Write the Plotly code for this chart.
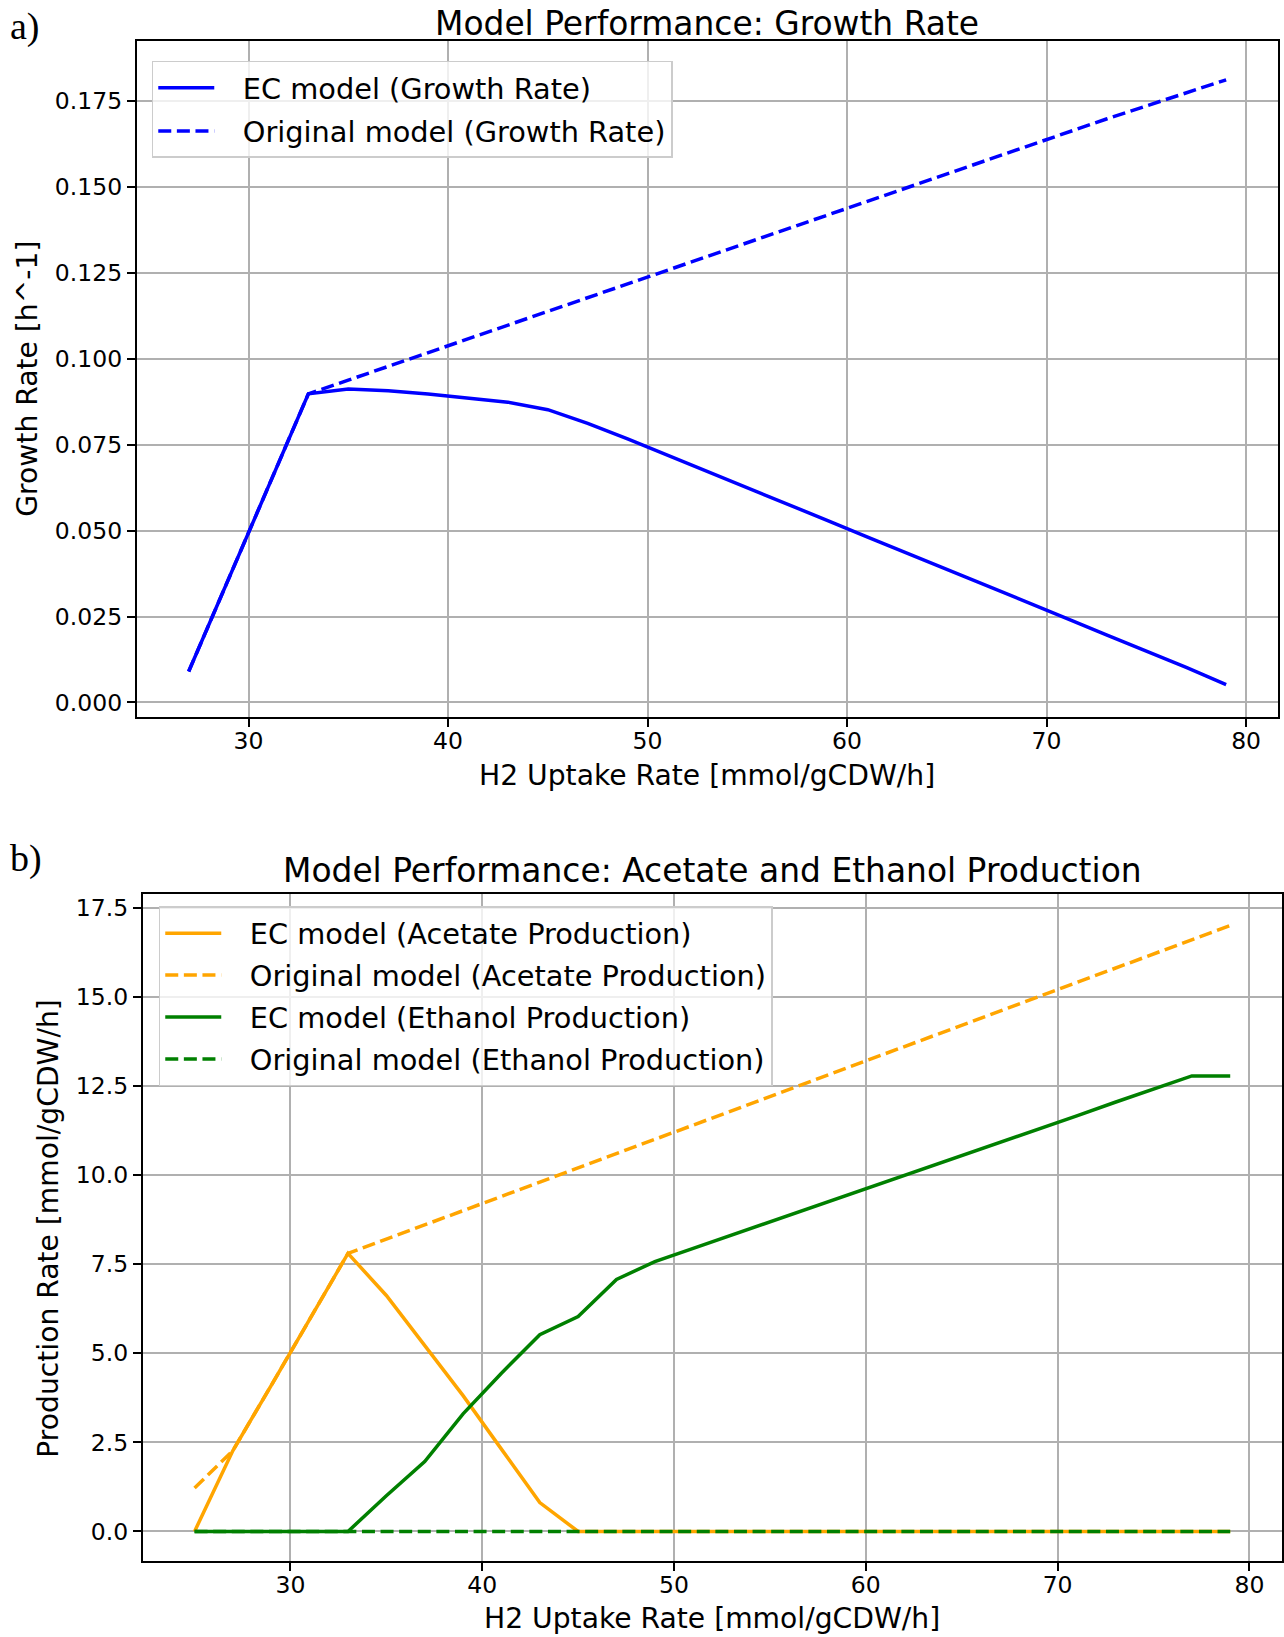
import plotly.graph_objects as go

# ---------------- data ----------------
h2_growth = [27, 29, 31, 33, 35, 37, 39, 41, 43, 45, 47, 49, 51, 53, 55, 57, 59,
             61, 63, 65, 67, 69, 71, 73, 75, 77, 79]
growth_ec = [0.0090, 0.0359, 0.0629, 0.0898, 0.0912, 0.0907, 0.0898, 0.0886, 0.0874,
             0.0852, 0.0812, 0.0767, 0.0720, 0.0672, 0.0625, 0.0577, 0.0530, 0.0482,
             0.0435, 0.0387, 0.0340, 0.0292, 0.0245, 0.0197, 0.0150, 0.0102, 0.0052]
growth_orig = [0.0090, 0.0359, 0.0629, 0.0898, 0.0938, 0.0978, 0.1018, 0.1058, 0.1098,
               0.1139, 0.1179, 0.1219, 0.1259, 0.1299, 0.1339, 0.1379, 0.1420, 0.1460,
               0.1500, 0.1540, 0.1580, 0.1620, 0.1660, 0.1698, 0.1736, 0.1774, 0.1812]

h2_prod = [25, 27, 29, 31, 33, 35, 37, 39, 41, 43, 45, 47, 49, 51, 53, 55, 57, 59,
           61, 63, 65, 67, 69, 71, 73, 75, 77, 79]
acetate_ec = [0.0, 2.27, 4.10, 5.95, 7.80, 6.62, 5.22, 3.81, 2.31, 0.81, 0.0, 0.0, 0.0,
              0.0, 0.0, 0.0, 0.0, 0.0, 0.0, 0.0, 0.0, 0.0, 0.0, 0.0, 0.0, 0.0, 0.0, 0.0]
acetate_orig = [1.22, 2.27, 4.10, 5.95, 7.80, 8.20, 8.60, 9.00, 9.40, 9.80, 10.20, 10.60,
                11.00, 11.40, 11.80, 12.20, 12.60, 13.00, 13.40, 13.80, 14.20, 14.60,
                15.00, 15.40, 15.80, 16.20, 16.60, 17.00]
ethanol_ec = [0.0, 0.0, 0.0, 0.0, 0.0, 1.00, 1.96, 3.30, 4.44, 5.52, 6.03, 7.07, 7.57,
              7.94, 8.31, 8.69, 9.06, 9.43, 9.80, 10.18, 10.55, 10.92, 11.29, 11.66,
              12.04, 12.41, 12.78, 12.78]
ethanol_orig = [0.0, 0.0, 0.0, 0.0, 0.0, 0.0, 0.0, 0.0, 0.0, 0.0, 0.0, 0.0, 0.0, 0.0,
                0.0, 0.0, 0.0, 0.0, 0.0, 0.0, 0.0, 0.0, 0.0, 0.0, 0.0, 0.0, 0.0, 0.0]

title_a = "Model Performance: Growth Rate"
title_b = "Model Performance: Acetate and Ethanol Production"
xlabel = "H2 Uptake Rate [mmol/gCDW/h]"
ylabel_a = "Growth Rate [h^-1]"
ylabel_b = "Production Rate [mmol/gCDW/h]"

# ---------------- style ----------------
W, H = 1284, 1637
FONT = "DejaVu Sans"
TICK = 23.5
LABEL = 28.2
LEG = 28.8
TITLE = 32.9
LW = 3.5
DASH = "13px,5.6px"
BLUE, ORANGE, GREEN = "#0000ff", "#ffa500", "#008000"
GRID = "#b0b0b0"
PAD = "\u2002\u00a0"  # gap between legend handle and text

def px_x(p):
    return p / W

def px_y(p):
    return 1 - p / H

# axes boxes in pixels
A_L, A_R, A_T, A_B = 137, 1280, 40, 716
B_L, B_R, B_T, B_B = 143, 1284, 894, 1561

fig = go.Figure()

def add(x, y, name, color, dashed, xa, ya, leg, grp):
    line = dict(color=color, width=LW)
    if dashed:
        line["dash"] = DASH
    fig.add_trace(go.Scatter(x=x, y=y, mode="lines", name=PAD + name, line=line,
                             xaxis=xa, yaxis=ya, legend=leg, legendgroup=grp))

add(h2_growth, growth_ec, "EC model (Growth Rate)", BLUE, False, "x", "y", "legend", "g1")
add(h2_growth, growth_orig, "Original model (Growth Rate)", BLUE, True, "x", "y", "legend", "g2")
add(h2_prod, acetate_ec, "EC model (Acetate Production)", ORANGE, False, "x2", "y2", "legend2", "p1")
add(h2_prod, acetate_orig, "Original model (Acetate Production)", ORANGE, True, "x2", "y2", "legend2", "p2")
add(h2_prod, ethanol_ec, "EC model (Ethanol Production)", GREEN, False, "x2", "y2", "legend2", "p3")
add(h2_prod, ethanol_orig, "Original model (Ethanol Production)", GREEN, True, "x2", "y2", "legend2", "p4")

axis_common = dict(showgrid=True, gridcolor=GRID, gridwidth=1.9, zeroline=False,
                   showline=True, linecolor="black", linewidth=1.9, mirror=True,
                   ticks="outside", ticklen=8, tickwidth=1.9, tickcolor="black",
                   tickfont=dict(family=FONT, size=TICK, color="black"))

legend_common = dict(xanchor="left", yanchor="top",
                     bgcolor="rgba(255,255,255,0.8)", bordercolor="#cccccc", borderwidth=1.5,
                     font=dict(family=FONT, size=LEG, color="black"), itemwidth=56,
                     traceorder="grouped")

fig.update_layout(
    width=W, height=H, autosize=False,
    margin=dict(l=0, r=0, t=0, b=0),
    paper_bgcolor="white", plot_bgcolor="white",
    font=dict(family=FONT, color="black"),
    xaxis=dict(domain=[px_x(A_L), px_x(A_R)], range=[24.4, 81.6], dtick=10, tick0=0,
               anchor="y", ticklabelstandoff=-6, **axis_common),
    yaxis=dict(domain=[px_y(A_B), px_y(A_T)], range=[-0.0041, 0.1925], dtick=0.025, tick0=0,
               tickformat=".3f", anchor="x", **axis_common),
    xaxis2=dict(domain=[px_x(B_L), px_x(B_R)], range=[22.3, 81.7], dtick=10, tick0=0,
                anchor="y2", ticklabelstandoff=-6, **axis_common),
    yaxis2=dict(domain=[px_y(B_B), px_y(B_T)], range=[-0.83, 17.87], dtick=2.5, tick0=0,
                tickformat=".1f", anchor="x2", **axis_common),
    legend=dict(x=px_x(152), y=px_y(60), tracegroupgap=3, **legend_common),
    legend2=dict(x=px_x(159), y=px_y(906), tracegroupgap=1.5, **legend_common),
    showlegend=True,
)

ann = []
ann.append(dict(text=title_a, x=px_x((A_L + A_R) / 2), y=px_y(23), xref="paper", yref="paper",
                xanchor="center", yanchor="middle", showarrow=False,
                font=dict(family=FONT, size=TITLE, color="black")))
ann.append(dict(text=title_b, x=px_x((B_L + B_R) / 2), y=px_y(870), xref="paper", yref="paper",
                xanchor="center", yanchor="middle", showarrow=False,
                font=dict(family=FONT, size=TITLE, color="black")))
ann.append(dict(text=xlabel, x=px_x((A_L + A_R) / 2), y=px_y(775), xref="paper", yref="paper",
                xanchor="center", yanchor="middle", showarrow=False,
                font=dict(family=FONT, size=LABEL, color="black")))
ann.append(dict(text=xlabel, x=px_x((B_L + B_R) / 2), y=px_y(1618), xref="paper", yref="paper",
                xanchor="center", yanchor="middle", showarrow=False,
                font=dict(family=FONT, size=LABEL, color="black")))
ann.append(dict(text=ylabel_a, x=px_x(28), y=px_y((A_T + A_B) / 2), xref="paper", yref="paper",
                xanchor="center", yanchor="middle", showarrow=False, textangle=-90,
                font=dict(family=FONT, size=LABEL, color="black")))
ann.append(dict(text=ylabel_b, x=px_x(49), y=px_y((B_T + B_B) / 2), xref="paper", yref="paper",
                xanchor="center", yanchor="middle", showarrow=False, textangle=-90,
                font=dict(family=FONT, size=LABEL, color="black")))
ann.append(dict(text="a)", x=px_x(8), y=px_y(26), xref="paper", yref="paper",
                xanchor="left", yanchor="middle", showarrow=False,
                font=dict(family="Liberation Serif", size=38, color="black")))
ann.append(dict(text="b)", x=px_x(8), y=px_y(858), xref="paper", yref="paper",
                xanchor="left", yanchor="middle", showarrow=False,
                font=dict(family="Liberation Serif", size=38, color="black")))
fig.update_layout(annotations=ann)

fig.write_html("out.html")
